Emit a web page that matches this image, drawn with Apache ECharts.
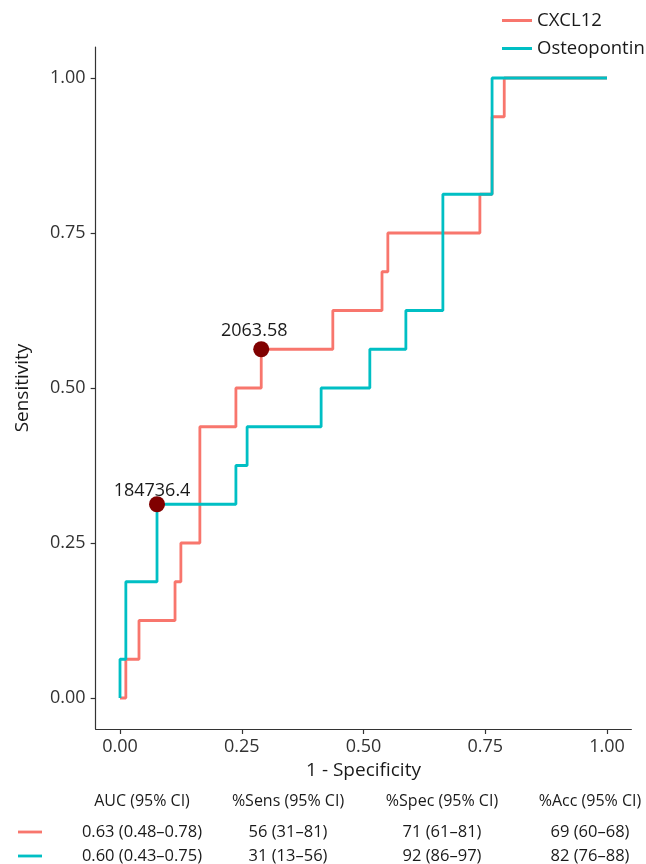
<!DOCTYPE html>
<html>
<head>
<meta charset="utf-8">
<script src="https://cdn.jsdelivr.net/npm/echarts@6/dist/echarts.min.js"></script>
<style>
  html, body { margin: 0; padding: 0; background: #fff; }
  #chart { width: 646px; height: 864px; }
</style>
</head>
<body>
<div id="chart"></div>
<script>
// ROC step vertices (1 - specificity, sensitivity)
const cxclFpr = [0, 0.012, 0.012, 0.039, 0.039, 0.113, 0.113, 0.125, 0.125, 0.164, 0.164, 0.238, 0.238, 0.29, 0.29, 0.437, 0.437, 0.538, 0.538, 0.55, 0.55, 0.739, 0.739, 0.764, 0.764, 0.789, 0.789, 1];
const cxclTpr = [0, 0, 0.0625, 0.0625, 0.125, 0.125, 0.1875, 0.1875, 0.25, 0.25, 0.4375, 0.4375, 0.5, 0.5, 0.5625, 0.5625, 0.625, 0.625, 0.6875, 0.6875, 0.75, 0.75, 0.8125, 0.8125, 0.9375, 0.9375, 1, 1];

const optnFpr = [0, 0, 0.012, 0.012, 0.076, 0.076, 0.238, 0.238, 0.261, 0.261, 0.413, 0.413, 0.513, 0.513, 0.587, 0.587, 0.663, 0.663, 0.764, 0.764, 1];
const optnTpr = [0, 0.0625, 0.0625, 0.1875, 0.1875, 0.3125, 0.3125, 0.375, 0.375, 0.4375, 0.4375, 0.5, 0.5, 0.5625, 0.5625, 0.625, 0.625, 0.8125, 0.8125, 1, 1];

// best cut-off points
const cutNames = ['2063.58', '184736.4'];
const cutFpr = [0.29, 0.076];
const cutTpr = [0.5625, 0.3125];

const seriesNames = ['CXCL12', 'Osteopontin'];
const axisTicks = [0, 0.25, 0.5, 0.75, 1];

// summary table
const tableHeader = ['AUC (95% CI)', '%Sens (95% CI)', '%Spec (95% CI)', '%Acc (95% CI)'];
const tableRows = [
  ['0.63 (0.48\u20130.78)', '56 (31\u201381)', '71 (61\u201381)', '69 (60\u201368)'],
  ['0.60 (0.43\u20130.75)', '31 (13\u201356)', '92 (86\u201397)', '82 (76\u201388)']
];

const colors = ['#F8766D', '#00BFC4'];
const font = '"Open Sans", "Noto Sans", sans-serif';

const chart = echarts.init(document.getElementById('chart'));

const zip = (xs, ys) => xs.map((x, i) => [x, ys[i]]);

// table drawn as graphic text
const colX = [142, 288, 442, 590];
const rowY = [832, 856];
const graphics = [];
tableHeader.forEach((t, i) => {
  graphics.push({
    type: 'text', x: colX[i], y: 801,
    style: { text: t, fontSize: 16, fontFamily: font, fill: '#1a1a1a', align: 'center', verticalAlign: 'middle' }
  });
});
tableRows.forEach((row, r) => {
  graphics.push({
    type: 'line',
    shape: { x1: 18, y1: rowY[r], x2: 42, y2: rowY[r] },
    style: { stroke: colors[r], lineWidth: 2.8 }
  });
  row.forEach((t, i) => {
    graphics.push({
      type: 'text', x: colX[i], y: rowY[r],
      style: { text: t, fontSize: 16.5, fontFamily: font, fill: '#1a1a1a', align: 'center', verticalAlign: 'middle' }
    });
  });
});

const axisCommon = {
  type: 'value',
  min: -0.05,
  max: 1.05,
  splitLine: { show: false },
  axisLine: { show: true, onZero: false, lineStyle: { color: '#333', width: 1.2 } },
  axisTick: { show: true, length: 5, customValues: axisTicks, lineStyle: { color: '#333', width: 1.2 } },
  nameTextStyle: { fontSize: 19, fontFamily: font, color: '#1a1a1a' },
  nameLocation: 'middle'
};

const option = {
  animation: false,
  color: colors,
  legend: {
    data: seriesNames,
    orient: 'vertical',
    left: 497,
    top: 6,
    itemGap: 9,
    itemWidth: 30,
    itemHeight: 3,
    icon: 'rect',
    textStyle: { fontSize: 18.5, fontFamily: font, color: '#1a1a1a' }
  },
  grid: { left: 95.65, right: 14.65, top: 47, bottom: 135 },
  xAxis: Object.assign({}, axisCommon, {
    name: '1 - Specificity',
    nameGap: 31,
    axisLabel: { customValues: axisTicks, margin: 9, fontSize: 18, fontFamily: font, color: '#333', formatter: v => v.toFixed(2) }
  }),
  yAxis: Object.assign({}, axisCommon, {
    name: 'Sensitivity',
    nameGap: 64,
    axisLabel: { customValues: axisTicks, margin: 10, fontSize: 18, fontFamily: font, color: '#333', formatter: v => v.toFixed(2) }
  }),
  graphic: graphics,
  series: [
    {
      name: seriesNames[0], type: 'line', data: zip(cxclFpr, cxclTpr),
      symbol: 'none', lineStyle: { width: 2.8, color: colors[0] }, itemStyle: { color: colors[0] }
    },
    {
      name: seriesNames[1], type: 'line', data: zip(optnFpr, optnTpr),
      symbol: 'none', lineStyle: { width: 2.8, color: colors[1] }, itemStyle: { color: colors[1] }
    },
    {
      name: 'cutoff', type: 'scatter', symbolSize: 16, z: 5,
      itemStyle: { color: '#800000', opacity: 1 },
      data: cutNames.map((n, i) => ({
        name: n,
        value: [cutFpr[i], cutTpr[i]],
        label: { offset: i === 0 ? [-7, 0] : [-5, 5] }
      })),
      label: {
        show: true, position: 'top', distance: 1,
        formatter: p => p.name,
        fontSize: 18, fontFamily: font, color: '#1a1a1a'
      }
    }
  ]
};

chart.setOption(option);
</script>
</body>
</html>
